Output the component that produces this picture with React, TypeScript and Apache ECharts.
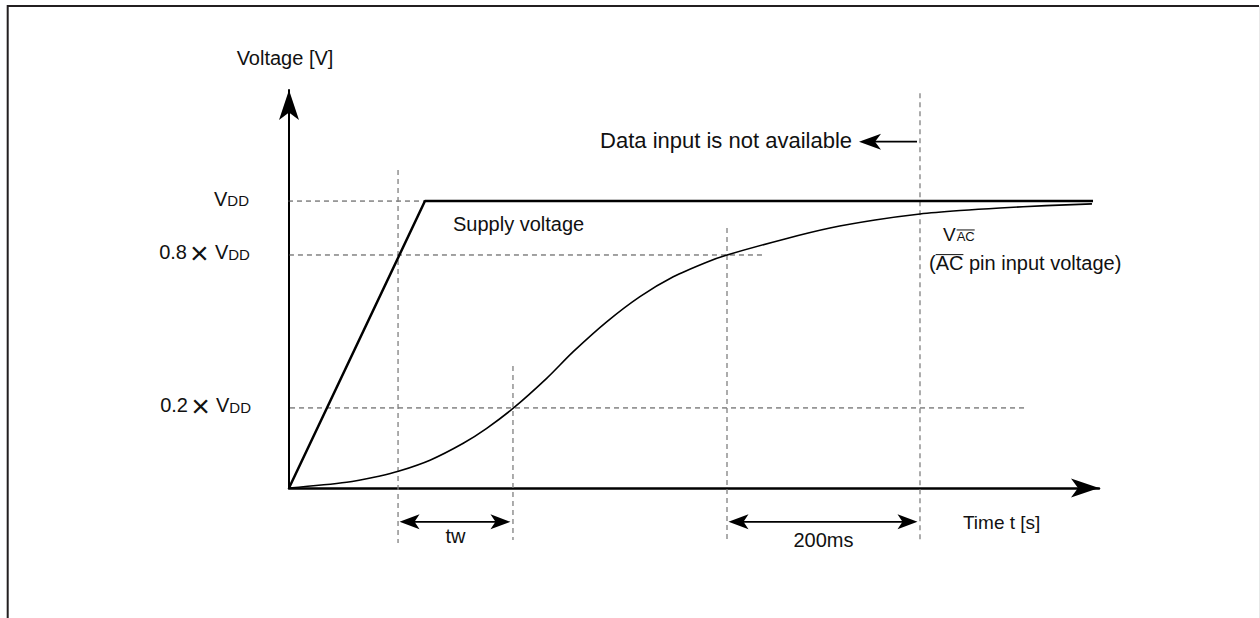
import React, { useEffect, useRef } from "react";
import * as echarts from "echarts";

const FONT = '"Liberation Sans", Arial, Helvetica, sans-serif';
const INK = "#111";

// Axis extents: time in ms, voltage as a fraction of VDD (schematic positions as drawn)
const timeMax = 839.4;
const voltMax = 1.387;

// Supply voltage (VDD) ramp
const supplyTime = [0, 140.9, 833.2];
const supplyVolt = [0, 1, 1];

// AC pin input voltage curve
const vacTime = [0, 59.8, 94.3, 113.3, 146.1, 180.6, 204.9, 232.4, 267, 294.6, 329.2, 363.7, 398.2, 432.8, 453.9, 514.0, 560.6, 607.3, 653.9, 695.3, 736.8, 784.5, 832.1];
const vacVolt = [0, 0.02, 0.042, 0.058, 0.097, 0.156, 0.208, 0.278, 0.382, 0.475, 0.579, 0.667, 0.736, 0.787, 0.812, 0.868, 0.906, 0.934, 0.955, 0.967, 0.976, 0.984, 0.99];

// Horizontal reference levels
const levelLabels = ["VDD", "0.8 × VDD", "0.2 × VDD"];
const levelValues = [1, 0.812, 0.279];
const levelStart = [-19.7, -18.7, -17.6];
const levelEnd = [210.4, 491.2, 762.7];

// Vertical timing markers
const markerTimes = [113.0, 232.1, 453.9, 653.9];
const markerTop = [1.108, 0.425, 0.906, 1.376];
const markerBottom = [-0.192, -0.181, -0.181, -0.181];

// Dimension spans
const spanLabels = ["tw", "200ms"];
const spanFrom = [113.0, 453.9];
const spanTo = [232.1, 653.9];
const spanLevel = -0.118;
const spanLabelLevels = [-0.1686, -0.181];

// Note with arrow
const noteText = "Data input is not available";
const noteArrowStart = 650.8;
const noteArrowTip = 590.7;
const noteLevel = 1.207;

// Other labels
const supplyLabel = "Supply voltage";
const supplyLabelAt = [170, 0.92];
const vacMain = "V";
const vacSub = "AC";
const vacLabelAt = [677.7, 0.861];
const vacDesc = "(AC pin input voltage)";
const vacDescAt = [663.2, 0.76];
const xName = "Time t [s]";
const xNameAt = [698.4, -0.12];
const yName = "Voltage [V]";

let measureCtx: CanvasRenderingContext2D | null = null;
function textWidth(t: string, size: number) {
  if (!measureCtx) measureCtx = document.createElement("canvas").getContext("2d");
  if (!measureCtx) return t.length * size * 0.55;
  measureCtx.font = `${size}px ${FONT}`;
  return measureCtx.measureText(t).width;
}

function head(tip: number[], from: number[], len: number, hw: number, notch: number) {
  const dx = tip[0] - from[0];
  const dy = tip[1] - from[1];
  const d = Math.hypot(dx, dy) || 1;
  const ux = dx / d, uy = dy / d;
  const nx = -uy, ny = ux;
  const bx = tip[0] - ux * len, by = tip[1] - uy * len;
  return {
    type: "polygon",
    shape: {
      points: [
        [tip[0], tip[1]],
        [bx + nx * hw, by + ny * hw],
        [tip[0] - ux * (len - notch), tip[1] - uy * (len - notch)],
        [bx - nx * hw, by - ny * hw],
      ],
    },
    style: { fill: "#000" },
  };
}

function txt(text: string, x: number, y: number, size: number, align = "left", va = "middle") {
  return {
    type: "text",
    style: { text, x, y, fontSize: size, fontFamily: FONT, fill: INK, align, verticalAlign: va },
  };
}

// label like "0.8 × VDD" drawn right-aligned, baseline-aligned, with small "DD"
function levelLabel(label: string, right: number, capMid: number, kids: any[]) {
  const parts = label.split(" × ");
  const main = parts[parts.length - 1];
  const big = main.slice(0, 1);
  const small = main.slice(1);
  const base = capMid + 0.344 * 20;
  const wSmall = textWidth(small, 15);
  const wBig = textWidth(big, 20);
  kids.push(txt(small, right - wSmall, base - 0.35 * 15, 15));
  const vLeft = right - wSmall - wBig;
  kids.push(txt(big, vLeft, capMid, 20));
  if (parts.length > 1) {
    const xMid = vLeft - 15.5;
    kids.push(txt("×", xMid, capMid + 0.5, 32, "center"));
    kids.push(txt(parts[0], xMid - 12.5, capMid, 20, "right"));
  }
}

const renderDecor = (_params: any, api: any) => {
  const P = (t: number, v: number) => api.coord([t, v]);
  const kids: any[] = [];
  const o = P(0, 0);
  // axis arrowheads
  kids.push(head(P(timeMax, 0), o, 28, 9.5, 7));
  kids.push(head(P(0, voltMax), o, 30, 10, 7.5));

  // x axis title under the arrow
  const xp = P(xNameAt[0], xNameAt[1]);
  kids.push(txt(xName, xp[0], xp[1], 19));

  // dimension spans
  spanFrom.forEach((f, i) => {
    const a0 = P(f, spanLevel), b0 = P(spanTo[i], spanLevel);
    const a = [a0[0] + 1.5, a0[1]], b = [b0[0] - 2.5, b0[1]];
    kids.push({ type: "line", shape: { x1: a[0] + 6, y1: a[1], x2: b[0] - 6, y2: b[1] }, style: { stroke: "#000", lineWidth: 1.6 } });
    kids.push(head(a, b, 20, 7.5, 5));
    kids.push(head(b, a, 20, 7.5, 5));
    const lp = P((f + spanTo[i]) / 2, spanLabelLevels[i]);
    kids.push(txt(spanLabels[i], lp[0], lp[1], 20, "center"));
  });

  // note arrow
  const ns = P(noteArrowStart, noteLevel), nt = P(noteArrowTip, noteLevel);
  kids.push({ type: "line", shape: { x1: ns[0], y1: ns[1], x2: nt[0] + 8, y2: nt[1] }, style: { stroke: "#000", lineWidth: 1.6 } });
  kids.push(head(nt, ns, 22, 8, 6));
  kids.push(txt(noteText, nt[0] - 7, nt[1] - 1.5, 22, "right"));

  // level labels
  levelLabels.forEach((l, i) => {
    const p = P(levelStart[i], levelValues[i]);
    levelLabel(l, p[0] - 21, p[1] - 2.5, kids);
  });

  // supply label
  const sp = P(supplyLabelAt[0], supplyLabelAt[1]);
  kids.push(txt(supplyLabel, sp[0], sp[1], 20));

  // VAC label with overline
  const vp = P(vacLabelAt[0], vacLabelAt[1]);
  const wV = textWidth(vacMain, 19);
  const wAC = textWidth(vacSub, 13);
  kids.push(txt(vacMain, vp[0], vp[1] - 0.35 * 19, 19));
  kids.push(txt(vacSub, vp[0] + wV + 1, vp[1] - 0.35 * 13, 13));
  const ovY = vp[1] - 0.69 * 13 - 2;
  kids.push({ type: "line", shape: { x1: vp[0] + wV + 1, y1: ovY, x2: vp[0] + wV + 1 + wAC, y2: ovY }, style: { stroke: INK, lineWidth: 1 } });

  // description with overline on AC
  const dp = P(vacDescAt[0], vacDescAt[1]);
  kids.push(txt(vacDesc, dp[0], dp[1] - 0.35 * 20, 20));
  const w0 = textWidth("(", 20);
  const w1 = textWidth("(AC", 20);
  const ovY2 = dp[1] - 0.69 * 20 - 1.5;
  kids.push({ type: "line", shape: { x1: dp[0] + w0, y1: ovY2, x2: dp[0] + w1, y2: ovY2 }, style: { stroke: INK, lineWidth: 1 } });

  return { type: "group", children: kids };
};

export default function App() {
  const ref = useRef<HTMLDivElement>(null);
  useEffect(() => {
    if (!ref.current) return;
    const chart = echarts.init(ref.current, undefined, { renderer: "svg" });
    const guides: any[] = [
      ...levelValues.map((v, i) => ({
        type: "line",
        data: [[levelStart[i], v], [levelEnd[i], v]],
        symbol: "none",
        clip: false,
        silent: true,
        z: 1,
        lineStyle: { color: "#444", width: 1, type: [5, 4] },
      })),
      ...markerTimes.map((t, i) => ({
        type: "line",
        data: [[t, markerTop[i]], [t, markerBottom[i]]],
        symbol: "none",
        clip: false,
        silent: true,
        z: 1,
        lineStyle: { color: "#808080", width: 1.3, type: [5, 4] },
      })),
    ];
    chart.setOption({
      animation: false,
      backgroundColor: "#fff",
      graphic: [
        { type: "polyline", shape: { points: [[7.7, 618], [7.7, 6], [1259, 6]] }, style: { stroke: "#231f20", lineWidth: 2, fill: null } },
        { type: "line", shape: { x1: 1259.5, y1: 6, x2: 1259.5, y2: 618 }, style: { stroke: "#e8e8e8", lineWidth: 1 } },
      ],
      grid: { left: 289, right: 161, top: 90, bottom: 130 },
      xAxis: {
        type: "value",
        min: 0,
        max: timeMax,
        axisLine: { show: true, onZero: false, lineStyle: { color: "#000", width: 2.5 } },
        axisTick: { show: false },
        axisLabel: { show: false },
        splitLine: { show: false },
      },
      yAxis: {
        type: "value",
        min: 0,
        max: voltMax,
        axisLine: { show: true, onZero: false, lineStyle: { color: "#000", width: 2 } },
        axisTick: { show: false },
        axisLabel: { show: false },
        splitLine: { show: false },
        name: yName,
        nameLocation: "end",
        nameGap: 22,
        nameTextStyle: { fontSize: 20, fontFamily: FONT, color: INK, padding: [0, 8, 0, 0] },
      },
      series: [
        ...guides,
        {
          type: "line",
          name: "Supply voltage",
          data: supplyTime.map((t, i) => [t, supplyVolt[i]]),
          symbol: "none",
          clip: false,
          z: 3,
          lineStyle: { color: "#000", width: 2.5 },
        },
        {
          type: "line",
          name: "VAC",
          data: vacTime.map((t, i) => [t, vacVolt[i]]),
          symbol: "none",
          smooth: 0.3,
          clip: false,
          z: 3,
          lineStyle: { color: "#000", width: 1.6 },
        },
        {
          type: "custom",
          data: [[0, 0]],
          encode: { x: 0, y: 1 },
          clip: false,
          silent: true,
          z: 4,
          renderItem: renderDecor,
        },
      ],
    });
    return () => chart.dispose();
  }, []);
  return <div ref={ref} style={{ position: "absolute", left: 0, top: 0, width: 1260, height: 618 }} />;
}
